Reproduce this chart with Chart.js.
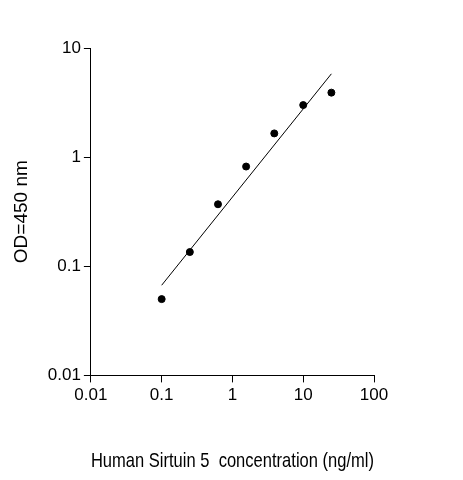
<!DOCTYPE html>
<html><head><meta charset="utf-8">
<script src="https://cdn.jsdelivr.net/npm/chart.js@4"></script>
<style>html,body{margin:0;background:#fff}#wrap{width:463px;height:480px}</style>
</head><body><div id="wrap"><canvas id="c"></canvas></div>
<script>
const concentration = [0.1, 0.25, 0.625, 1.56, 3.9, 10, 25];
const od450 = [0.05, 0.135, 0.37, 0.82, 1.65, 3.0, 3.9];
const fitX = [0.1, 25];
const fitY = [0.067, 5.8];
const decades = [0.01, 0.1, 1, 10, 100];

const fam = "Arial, sans-serif";
const font = { family: fam, size: 17 };
const decadeTicks = (axis) => { axis.ticks = decades.map((v) => ({ value: v })); };

new Chart(document.getElementById("c"), {
  type: "scatter",
  data: {
    datasets: [
      {
        data: concentration.map((x, i) => ({ x: x, y: od450[i] })),
        backgroundColor: "#000",
        borderColor: "#000",
        pointRadius: 3.5,
      },
      {
        type: "line",
        data: fitX.map((x, i) => ({ x: x, y: fitY[i] })),
        borderColor: "#000",
        borderWidth: 1,
        pointRadius: 0,
      },
    ],
  },
  options: {
    responsive: true,
    maintainAspectRatio: false,
    animation: false,
    layout: { padding: { top: 48, right: 89, left: 6, bottom: 2 } },
    plugins: { legend: { display: false }, tooltip: { enabled: false } },
    scales: {
      x: {
        type: "logarithmic", min: 0.01, max: 100,
        afterBuildTicks: decadeTicks,
        grid: { drawOnChartArea: false, color: "#000", tickLength: 7 },
        border: { color: "#000" },
        ticks: { color: "#000", font: font, maxRotation: 0, callback: (v) => String(v) },
        title: { display: true, text: "Human Sirtuin 5  concentration (ng/ml)", color: "#000",
                 font: { family: fam, size: 21 }, padding: { top: 40 } },
      },
      y: {
        type: "logarithmic", min: 0.01, max: 10,
        afterBuildTicks: decadeTicks,
        grid: { drawOnChartArea: false, color: "#000", tickLength: 7 },
        border: { color: "#000" },
        ticks: { color: "#000", font: font, callback: (v) => String(v) },
        title: { display: true, text: "OD=450 nm", color: "#000",
                 font: { family: fam, size: 19 }, padding: { bottom: 12 } },
      },
    },
  },
});
</script></body></html>
